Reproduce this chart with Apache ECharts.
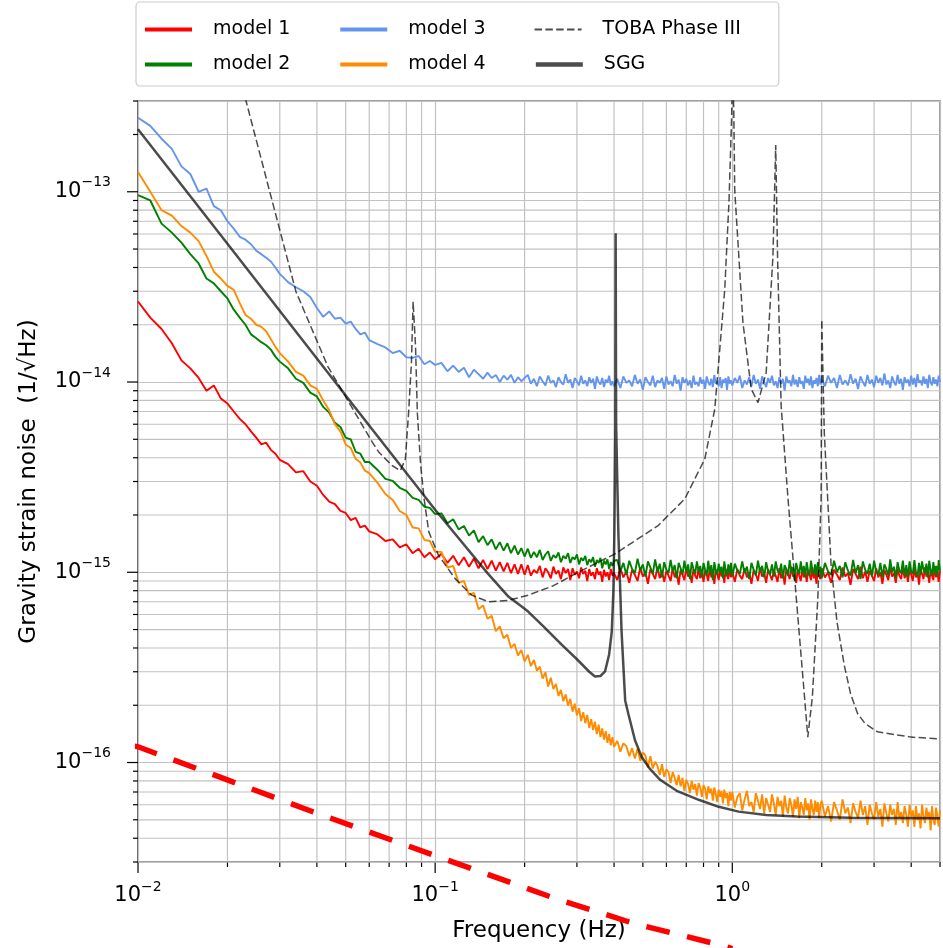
<!DOCTYPE html>
<html><head><meta charset="utf-8">
<script src="https://cdn.jsdelivr.net/npm/echarts@6/dist/echarts.min.js"></script>
<style>html,body{margin:0;padding:0;background:#fff}#c{width:943px;height:948px}</style>
</head><body><div id="c"></div>
<script>
// ---------- data ----------
const freq = [
0.010,0.011,0.012,0.013,0.014,0.015,0.016,0.017,0.018,0.019,0.020,0.021,0.022,0.023,0.024,0.025,0.026,0.027,0.028,0.029,0.030,
0.032,0.034,0.036,0.038,0.040,0.042,0.044,0.046,0.048,0.050,0.052,0.054,0.056,0.058,0.060,
0.064,0.068,0.072,0.076,0.080,0.084,0.088,0.092,0.096,0.100,
0.105,0.110,0.115,0.120,0.125,0.130,0.135,0.140,0.145,0.150,0.155,0.160,0.165,0.170,0.175,0.180,0.185,0.190,0.195,0.200,
0.205,0.210,0.215,0.220,0.225,0.230,0.235,0.240,0.245,0.250,0.255,0.260,0.265,0.270,0.275,0.280,0.285,0.290,0.295,0.300,
0.305,0.310,0.315,0.320,0.325,0.330,0.335,0.340,0.345,0.350,0.355,0.360,0.365,0.370,0.375,0.380,0.385,0.390,0.395,0.400,
0.41,0.42,0.43,0.44,0.45,0.46,0.47,0.48,0.49,0.50,0.51,0.52,0.53,0.54,0.55,0.56,0.57,0.58,0.59,0.60,
0.61,0.62,0.63,0.64,0.65,0.66,0.67,0.68,0.69,0.70,0.71,0.72,0.73,0.74,0.75,0.76,0.77,0.78,0.79,0.80,
0.81,0.82,0.83,0.84,0.85,0.86,0.87,0.88,0.89,0.90,0.91,0.92,0.93,0.94,0.95,0.96,0.97,0.98,0.99,
1.00,1.02,1.04,1.06,1.08,1.10,1.12,1.14,1.16,1.18,1.20,1.22,1.24,1.26,1.28,1.30,1.32,1.34,1.36,1.38,
1.40,1.42,1.44,1.46,1.48,1.50,1.52,1.54,1.56,1.58,1.60,1.62,1.64,1.66,1.68,1.70,1.72,1.74,1.76,1.78,
1.80,1.82,1.84,1.86,1.88,1.90,1.92,1.94,1.96,1.98,
2.00,2.05,2.10,2.15,2.20,2.25,2.30,2.35,2.40,2.45,2.50,2.55,2.60,2.65,2.70,2.75,2.80,2.85,2.90,2.95,
3.00,3.05,3.10,3.15,3.20,3.25,3.30,3.35,3.40,3.45,3.50,3.55,3.60,3.65,3.70,3.75,3.80,3.85,3.90,3.95,
4.00,4.05,4.10,4.15,4.20,4.25,4.30,4.35,4.40,4.45,4.50,4.55,4.60,4.65,4.70,4.75,4.80,4.85,4.90,4.95,5.00
];

// model 1 (units of 1e-16)
const model1 = [
265,218,190,160,130,118,105,90,96,82,77,70,64,60,55,51,47,48,44,42,39,
37,33.5,34,30,28.5,25.5,23.5,22.8,21,20.5,18.8,19.3,17.2,17.6,16.4,
15.8,14.6,14.9,13.5,14.0,12.6,13.3,12.0,12.7,11.7,
12.5,11.2,12.2,10.9,12.0,10.7,11.8,10.5,11.6,10.4,11.5,10.2,11.3,10.1,11.2,9.9,11.0,9.8,11.0,9.7,
10.9,9.6,10.3,9.9,10.8,9.4,10.5,10.0,9.3,10.7,9.8,10.2,9.2,10.6,9.9,10.4,9.1,10.5,9.7,10.1,
9.3,10.6,9.8,10.2,9.0,10.4,9.6,10.0,9.2,10.5,9.7,10.1,8.9,10.3,9.5,10.0,9.1,10.4,9.6,9.9,
9.1,10.5,9.4,10.1,8.8,10.3,9.7,9.0,10.6,9.5,10.0,8.7,10.4,9.8,9.2,10.7,9.3,10.1,8.9,10.2,
9.6,9.0,10.5,9.4,10.0,8.6,10.3,9.7,9.1,10.6,9.5,9.9,8.8,10.4,9.6,9.2,10.5,9.3,10.1,8.9,
10.2,9.7,9.0,10.6,9.4,10.0,8.7,10.3,9.8,9.1,10.5,9.5,9.9,8.8,10.4,9.6,9.2,10.6,9.4,
10.1,8.9,10.4,9.6,9.2,10.5,9.4,10.0,8.7,10.3,9.8,9.0,10.6,9.5,9.9,8.8,10.4,9.7,9.1,10.2,
9.6,8.9,10.5,9.3,10.0,8.6,10.4,9.8,9.2,10.7,9.5,9.9,8.8,10.3,9.6,9.0,10.5,9.4,10.1,8.9,
10.2,9.7,9.1,10.6,9.3,10.0,8.7,10.4,9.6,9.2,
10.5,9.4,10.0,8.8,10.3,9.7,9.1,10.6,9.5,9.9,8.6,10.4,9.8,9.2,10.7,9.3,10.1,8.9,10.2,9.6,
9.0,10.5,9.4,10.0,8.7,10.3,9.7,9.1,10.6,9.5,9.9,8.8,10.4,9.6,9.2,10.7,9.3,10.1,8.9,10.3,
9.7,9.0,10.5,9.4,10.0,8.6,10.4,9.8,9.2,10.6,9.5,9.9,8.8,10.3,9.6,9.1,10.7,9.4,10.0,8.9,10.2
];
// model 2 (units of 1e-16)
const model2 = [
960,900,680,610,540,470,420,350,330,300,275,240,218,200,178,170,162,156,148,136,128,
118,104,99,88,84,74,69,61,58,51,50,43,42,38,38,
34.5,31.0,30.2,27.8,26.8,24.6,24.0,22.1,21.8,20.2,
20.4,18.1,19.0,16.8,17.5,15.6,16.6,14.4,15.5,13.9,14.9,13.2,14.4,13.0,14.2,12.6,13.8,12.4,13.4,12.1,
13.3,11.9,12.8,12.0,13.1,11.6,12.4,12.9,11.5,12.3,11.9,12.7,11.3,12.2,11.8,12.6,11.2,12.0,11.7,12.4,
11.0,11.9,11.5,12.2,10.9,11.7,11.3,12.0,10.7,11.6,11.2,11.9,10.5,11.5,11.0,11.7,10.4,11.3,10.8,11.5,
11.6,10.1,11.2,9.7,11.5,10.4,9.9,11.8,10.2,11.0,9.5,11.4,10.6,9.8,11.7,10.0,11.1,9.4,11.3,10.3,
9.9,11.6,10.1,10.9,9.3,11.2,10.5,9.7,11.5,10.0,11.0,9.2,11.3,10.4,9.8,11.4,10.1,10.8,9.4,11.2,
10.3,9.6,11.5,9.9,10.9,9.1,11.3,10.2,9.7,11.1,10.0,10.7,9.3,11.4,10.1,9.6,11.0,9.9,11.2,
9.5,11.1,10.2,9.8,11.4,9.9,10.7,9.2,11.2,10.3,9.6,11.5,10.0,10.8,9.4,11.3,10.1,9.7,11.0,9.5,
11.4,10.2,9.9,11.1,9.3,10.9,10.4,9.6,11.6,10.0,10.6,9.1,11.2,10.3,9.8,11.4,9.9,10.8,9.4,11.3,
10.1,9.6,11.5,10.2,9.8,11.0,9.5,11.3,10.0,10.7,
9.3,11.2,10.1,9.7,11.5,10.0,10.8,9.4,11.3,10.2,9.6,11.6,9.9,10.9,9.2,11.4,10.3,9.8,11.1,9.5,
11.5,10.1,9.7,11.2,9.4,11.0,10.4,9.6,11.7,10.0,10.7,9.3,11.3,10.2,9.9,11.5,9.6,10.9,9.4,11.4,
10.1,9.8,11.6,10.0,9.5,11.2,9.7,11.4,10.3,9.9,11.1,9.4,11.5,10.2,9.6,11.3,9.9,10.8,9.5,11.6,10.2
];
// model 3 (units of 1e-15)
const model3 = [
245,222,190,168,136,124,100,104,84,80,70,64,58,56,53,49,47,45,43,40,37,
33.5,31.5,30,28,24.5,22,23.5,21.5,21.8,20.3,20.8,19,17.8,18.2,16.6,
15.8,15.2,14.2,14.6,13.5,13.4,13.7,12.4,12.9,12.3,
12.6,11.4,12.2,11.3,11.9,10.6,11.6,11.0,10.4,11.2,10.5,10.9,10.0,10.8,10.3,10.9,9.9,10.6,10.1,10.5,
10.9,9.8,10.4,9.5,10.7,10.1,9.6,10.8,9.9,10.2,9.4,10.6,10.0,9.7,11.0,9.9,10.3,9.3,10.5,10.1,
9.6,10.8,9.8,10.2,9.5,10.6,9.9,10.4,9.2,10.7,10.0,9.7,10.5,9.4,10.3,9.9,10.8,9.6,10.1,9.5,
10.4,9.3,10.7,9.9,10.2,9.5,10.9,9.8,10.3,9.1,10.6,10.0,9.6,10.8,9.4,10.2,9.9,10.5,9.2,10.7,
9.7,10.1,9.5,10.9,9.8,10.3,9.0,10.6,9.9,10.4,9.6,10.2,9.3,10.8,9.7,10.0,9.5,10.6,9.8,10.3,
9.2,10.7,10.0,9.6,10.4,9.4,10.9,9.8,10.1,9.5,10.6,9.3,10.3,9.9,10.5,9.1,10.7,9.8,10.2,
9.6,10.5,9.9,10.8,9.3,10.2,9.7,10.6,9.5,10.9,9.8,10.3,9.2,10.7,10.0,9.4,10.5,9.9,10.8,9.6,
10.1,9.3,10.6,9.8,10.4,9.0,10.7,9.9,10.2,9.5,10.9,9.7,10.3,9.4,10.6,9.8,10.1,9.2,10.8,9.9,
10.4,9.6,10.7,9.3,10.2,9.8,10.5,9.5,10.9,9.7,
10.3,9.5,10.8,9.9,10.5,9.3,10.9,9.7,10.2,9.6,11.0,9.8,10.4,9.2,10.7,10.0,9.5,10.9,9.8,10.3,
9.4,10.8,9.9,10.5,9.6,11.1,9.7,10.2,9.3,10.7,10.0,9.6,10.9,9.8,10.4,9.1,10.6,9.9,10.3,9.5,
10.8,9.7,10.5,9.4,11.0,9.9,10.2,9.6,10.7,9.8,10.4,9.3,10.9,10.0,9.6,10.6,9.8,10.3,9.5,10.8,10.0
];
// model 4 (units of 1e-17)
const model4 = [
12700,10000,8000,7500,6600,6100,5500,4600,3800,3500,3200,3050,2600,2250,2150,2000,1950,1850,1680,1530,1420,
1280,1130,1080,960,920,800,710,600,550,470,450,395,378,342,332,
295,258,240,210,200,172,170,148,146,128,
128,106,108,88,90,76,78,64,67,57,59,49,52,45,47,40,42,36.5,39,34,
36.8,32.1,34.6,30.4,31.9,27.6,29.8,25.1,27.9,24.3,25.9,22.4,24.1,21.0,22.8,19.9,21.6,18.5,20.4,17.7,
19.3,16.5,18.4,16.1,17.8,15.2,16.9,14.8,16.4,14.1,15.8,13.6,15.1,13.2,14.6,12.7,14.1,12.3,13.6,12.1,
13.0,11.4,12.6,12.2,10.8,11.9,10.5,11.8,10.2,11.3,10.9,9.4,10.8,9.3,10.1,9.6,8.6,9.8,8.4,9.2,
8.9,7.8,8.9,8.3,7.6,8.6,7.5,8.3,7.1,8.1,7.7,6.9,8.0,7.2,7.7,6.7,7.8,7.4,6.6,7.6,
7.3,6.4,7.5,6.9,7.3,6.3,7.4,6.8,6.2,7.2,6.6,7.1,6.1,7.2,6.5,6.9,5.9,7.0,6.3,
7.0,5.8,6.6,6.9,5.6,6.4,7.1,5.9,6.2,5.5,6.9,6.3,5.7,6.8,5.4,6.5,6.0,5.5,6.8,6.1,
5.3,6.6,5.9,6.3,5.2,6.7,5.8,5.4,6.5,6.0,5.2,6.4,5.7,6.6,5.1,6.2,5.8,5.3,6.5,5.6,
6.1,5.0,6.4,5.7,5.3,6.3,5.5,6.2,5.1,6.0,
6.3,5.2,5.9,4.9,6.2,5.6,5.0,6.4,5.4,5.8,4.8,6.1,5.5,5.1,6.3,5.3,5.9,4.7,6.0,5.4,
5.0,6.2,5.2,5.7,4.6,6.1,5.4,4.9,6.0,5.3,5.7,4.7,6.2,5.1,5.5,4.8,5.9,5.3,4.6,6.0,
5.2,5.6,4.6,5.9,5.0,5.4,4.5,6.0,5.2,4.8,5.8,5.1,5.5,4.4,5.9,5.0,4.7,5.8,5.2,4.6,5.6
];

// TOBA Phase III (units of 1e-17)
const tobaFreq = [0.022,0.0231,0.028,0.034,0.0435,0.0513,0.0615,0.0647,0.0718,0.0764,0.0794,0.0814,0.0832,0.0843,0.0859,0.0871,0.0894,0.0918,0.0952,0.1026,0.1167,0.1327,0.151,0.175,0.206,0.25,0.303,0.403,0.563,0.692,0.808,0.873,0.943,0.975,0.995,1.003,1.012,1.019,1.086,1.158,1.22,1.30,1.37,1.40,1.42,1.46,1.54,1.66,1.75,1.795,1.86,1.94,1.99,2.0,2.04,2.15,2.25,2.38,2.5,2.64,2.8,3.08,4.0,5.0];
const tobaVal = [40000,30000,9500,2990,1210,780,482,427,363,342,394,690,1260,2650,1540,690,363,243,163,123,92.6,75.8,70,71,75.8,85,100,125,176,243,394,720,3050,9000,25000,50000,25000,10200,2050,920,780,1120,4570,17600,4570,750,243,59.6,22.1,13.6,22.1,73,243,2130,540,109,55,32.6,23,18.1,16,14.5,13.6,13.3];

// SGG (units of 1e-17)
const sggFreq = [0.01,0.02,0.05,0.1,0.15,0.1767,0.196,0.206,0.23,0.267,0.3,0.33,0.345,0.36,0.373,0.385,0.393,0.398,0.401,0.404,0.405,0.4065,0.4135,0.424,0.43,0.436,0.447,0.4705,0.4955,0.53,0.573,0.65,0.775,0.9,1.05,1.3,1.65,2.5,5.0];
const sggVal = [21300,5330,850,213,99,74.3,65.9,62,52.4,41.5,34.9,30.0,28.3,28.5,30.1,37,48.8,80,163,600,6050,600,163,48.8,32,21.2,18,13.1,10.7,9.2,8.09,7.1,6.35,5.85,5.52,5.3,5.2,5.12,5.09];

// red dashed reference line (units of 1e-17)
const targetFreq = [0.0097,0.01,0.02,0.0395,0.1,0.251,0.47,0.91,1.0];
const targetVal = [12.2,12.1,8.1,5.45,3.24,1.94,1.42,1.10,1.05];

// tick positions
const xMajorTicks = [0.01,0.1,1];
const xMinorTicks = [0.02,0.03,0.04,0.05,0.06,0.07,0.08,0.09,0.2,0.3,0.4,0.5,0.6,0.7,0.8,0.9,2,3,4,5];
const yMajorTicks = [1e-16,1e-15,1e-14,1e-13];
const yMinorTicks = [3e-17,4e-17,5e-17,6e-17,7e-17,8e-17,9e-17,
  2e-16,3e-16,4e-16,5e-16,6e-16,7e-16,8e-16,9e-16,
  2e-15,3e-15,4e-15,5e-15,6e-15,7e-15,8e-15,9e-15,
  2e-14,3e-14,4e-14,5e-14,6e-14,7e-14,8e-14,9e-14,
  2e-13,3e-13];

// ---------- chart ----------
const FONT = 'DejaVu Sans';
const X_MIN = 0.01, X_MAX = 5, Y_MIN = 3e-17, Y_MAX = 3e-13;
const GRID_COLOR = '#c2c2c2';
function pairs(fs, vs, unit) { return fs.map((f, i) => [f, vs[i] * unit]); }

const lenProblems = [['model1', model1], ['model2', model2], ['model3', model3], ['model4', model4]]
  .filter(a => a[1].length !== freq.length).map(a => a[0] + ':' + a[1].length + '/' + freq.length);
if (tobaVal.length !== tobaFreq.length) lenProblems.push('toba');
if (sggVal.length !== sggFreq.length) lenProblems.push('sgg');

function powLabel(v) {
  const l = Math.log10(v), e = Math.round(l);
  if (Math.abs(l - e) > 1e-6) return '';
  return '{b|10}{s|' + (e < 0 ? '\u2212' + (-e) : String(e)) + '}';
}
const labelRich = {
  b: { fontFamily: FONT, fontSize: 21, color: '#000' },
  s: { fontFamily: FONT, fontSize: 14, color: '#000', padding: [0, 0, 18, 0] }
};

const tickItems = [];
xMajorTicks.forEach(v => tickItems.push([v, Y_MIN, 0]));
xMinorTicks.forEach(v => tickItems.push([v, Y_MIN, 1]));
yMajorTicks.forEach(v => tickItems.push([X_MIN, v, 2]));
yMinorTicks.forEach(v => tickItems.push([X_MIN, v, 3]));

function renderTick(params, api) {
  const x = api.value(0), y = api.value(1), kind = api.value(2);
  const children = [];
  const gs = { stroke: GRID_COLOR, lineWidth: 1.2 };
  const ts = { stroke: '#000', lineWidth: 1.2 };
  if (kind < 2) {
    const p0 = api.coord([x, Y_MIN]), p1 = api.coord([x, Y_MAX]);
    if (kind === 1) children.push({ type: 'line', shape: { x1: p0[0], y1: p0[1], x2: p1[0], y2: p1[1] }, style: gs });
    const len = kind === 0 ? 11 : 5;
    children.push({ type: 'line', shape: { x1: p0[0], y1: p0[1], x2: p0[0], y2: p0[1] + len }, style: ts });
  } else {
    const p0 = api.coord([X_MIN, y]), p1 = api.coord([X_MAX, y]);
    if (kind === 3) children.push({ type: 'line', shape: { x1: p0[0], y1: p0[1], x2: p1[0], y2: p1[1] }, style: gs });
    const len = kind === 2 ? 11 : 5;
    children.push({ type: 'line', shape: { x1: p0[0] - len, y1: p0[1], x2: p0[0], y2: p0[1] }, style: ts });
  }
  return { type: 'group', children };
}

const GRAY = 'rgba(0,0,0,0.7)';
const MW = 1.9;
const legendText = { fontFamily: FONT, fontSize: 19, color: '#000', padding: [0, 0, 0, 16] };
const legendCommon = { itemWidth: 47, itemHeight: 14, itemGap: 48, selectedMode: false, itemStyle: { opacity: 0 }, textStyle: legendText };
const chart = echarts.init(document.getElementById('c'));
chart.setOption({
  animation: false,
  backgroundColor: '#fff',
  title: { show: lenProblems.length > 0, text: lenProblems.join(' '), left: 300, top: 300 },
  grid: { left: 138, right: 0, top: 101, bottom: 84, show: true, borderColor: '#000', borderWidth: 1.2, backgroundColor: 'transparent' },
  legend: [
    Object.assign({}, legendCommon, {
      data: [{ name: 'model 1', lineStyle: { width: 4 } }, { name: 'model 3', lineStyle: { width: 4 } }, { name: 'TOBA Phase III', lineStyle: { width: 2 } }],
      left: 136, top: 2, padding: [18, 38, 47, 7], backgroundColor: '#fff', borderColor: '#cccccc', borderWidth: 1.2, borderRadius: 4 }),
    Object.assign({}, legendCommon, {
      data: [{ name: 'model 2', lineStyle: { width: 4 } }, { name: 'model 4', lineStyle: { width: 4 } }, { name: 'SGG', lineStyle: { width: 4.5 } }],
      left: 136, top: 42, padding: [13, 10, 13, 7] })
  ],
  xAxis: {
    type: 'log', logBase: 10, min: X_MIN, max: X_MAX,
    axisLine: { show: false }, axisTick: { show: false },
    splitLine: { show: true, lineStyle: { color: GRID_COLOR, width: 1.2 } },
    axisLabel: { formatter: powLabel, rich: labelRich, margin: 18 },
    name: 'Frequency (Hz)', nameLocation: 'middle', nameGap: 58,
    nameTextStyle: { fontFamily: FONT, fontSize: 23, color: '#000' }
  },
  yAxis: {
    type: 'log', logBase: 10, min: Y_MIN, max: Y_MAX,
    axisLine: { show: false }, axisTick: { show: false },
    splitLine: { show: true, lineStyle: { color: GRID_COLOR, width: 1.2 } },
    axisLabel: { formatter: powLabel, rich: labelRich, margin: 27 },
    name: 'Gravity strain noise  (1/\u221AHz)', nameLocation: 'middle', nameGap: 97, nameRotate: 90,
    nameTextStyle: { fontFamily: FONT, fontSize: 23, color: '#000' }
  },
  series: [
    { type: 'custom', name: '_ticks', renderItem: renderTick, data: tickItems, z: 1, clip: false, silent: true },
    { type: 'line', name: 'model 1', data: pairs(freq, model1, 1e-16), symbol: 'none', z: 2,
      itemStyle: { color: '#ff0000' }, lineStyle: { color: '#ff0000', width: MW } },
    { type: 'line', name: 'model 2', data: pairs(freq, model2, 1e-16), symbol: 'none', z: 2,
      itemStyle: { color: '#008000' }, lineStyle: { color: '#008000', width: MW } },
    { type: 'line', name: 'model 3', data: pairs(freq, model3, 1e-15), symbol: 'none', z: 2,
      itemStyle: { color: '#6495ed' }, lineStyle: { color: '#6495ed', width: MW } },
    { type: 'line', name: 'model 4', data: pairs(freq, model4, 1e-17), symbol: 'none', z: 2,
      itemStyle: { color: '#ff8c00' }, lineStyle: { color: '#ff8c00', width: MW } },
    { type: 'line', name: 'TOBA Phase III', data: pairs(tobaFreq, tobaVal, 1e-17), symbol: 'none', z: 2,
      itemStyle: { color: GRAY }, lineStyle: { color: GRAY, width: 1.5, type: [7.5, 3.3] } },
    { type: 'line', name: 'SGG', data: pairs(sggFreq, sggVal, 1e-17), symbol: 'none', z: 2,
      itemStyle: { color: GRAY }, lineStyle: { color: GRAY, width: 2.5 } },
    { type: 'line', name: 'target', data: pairs(targetFreq, targetVal, 1e-17), symbol: 'none', z: 3, clip: false,
      itemStyle: { color: '#ff0000' }, lineStyle: { color: '#ff0000', width: 5.5, type: [24, 17.8] } }
  ]
});
</script>
</body></html>
